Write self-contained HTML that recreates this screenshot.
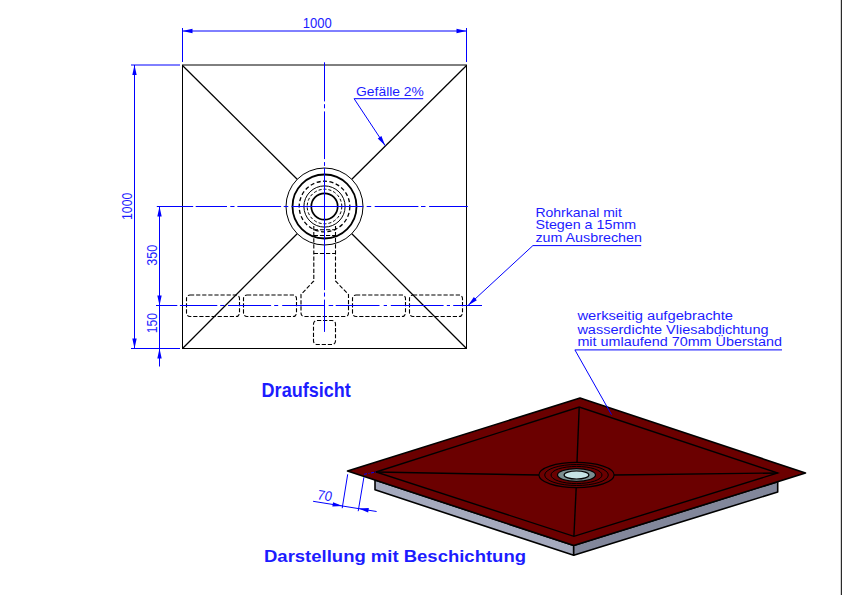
<!DOCTYPE html>
<html><head><meta charset="utf-8">
<style>
html,body{margin:0;padding:0;background:#fff;}
body{width:842px;height:595px;overflow:hidden;}
svg{display:block;}
text{font-family:"Liberation Sans",sans-serif;fill:#1c1cff;}
</style></head><body>
<svg width="842" height="595" viewBox="0 0 842 595">
<rect x="0" y="0" width="842" height="595" fill="#fff"/>
<!-- right frame line -->
<rect x="840.8" y="0" width="1.2" height="595" fill="#2a2a2a"/>

<!-- ===== TOP VIEW ===== -->
<g fill="none" stroke="#000" stroke-width="1">
  <line x1="182" y1="65" x2="467" y2="65"/>
  <line x1="182.5" y1="65" x2="182.5" y2="349"/>
  <line x1="466.5" y1="65" x2="466.5" y2="349"/>
  <line x1="182" y1="348.5" x2="467" y2="348.5"/>
  <!-- diagonals to outer circle r=38.5 -->
  <g stroke-width="1.25">
  <line x1="182.5" y1="65.5" x2="297.2" y2="179.3"/>
  <line x1="466.5" y1="65.5" x2="351.8" y2="179.3"/>
  <line x1="182.5" y1="348.5" x2="297.2" y2="233.7"/>
  <line x1="466.5" y1="348.5" x2="351.8" y2="233.7"/>
  </g>
  <!-- drain circles -->
  <circle cx="324.5" cy="206.5" r="38.5"/>
  <circle cx="324.5" cy="206.5" r="32" stroke-width="1.8"/>
  <circle cx="324.5" cy="206.5" r="25.3" stroke-width="1.3" stroke-dasharray="4 2.5"/>
  <circle cx="324.5" cy="206.5" r="20.6" stroke-width="1"/>
  <circle cx="324.5" cy="206.5" r="17.3" stroke-width="1" stroke-dasharray="3 2"/>
  <circle cx="324.5" cy="206.5" r="13.2" stroke-width="1.7"/>
</g>
<!-- dashed channel and slots -->
<g fill="none" stroke="#000" stroke-width="1.1" stroke-dasharray="4.2 1.9">
  <path d="M313.8 226 V281 L301 294.5 V313 Q301 316.5 304.5 316.5 H345 Q348.5 316.5 348.5 313 V294.5 L335.5 281 V226"/>
  <path d="M313.8 229.8 H335.5 M313.8 235.5 H335.5 M313.8 253.5 H335.5"/>
  <rect x="186.5" y="295" width="53" height="21.5" rx="3.5"/>
  <rect x="243.5" y="295" width="53" height="21.5" rx="3.5"/>
  <rect x="352.5" y="295" width="53" height="21.5" rx="3.5"/>
  <rect x="409.5" y="295" width="53" height="21.5" rx="3.5"/>
  <rect x="313.5" y="320.5" width="22" height="24" rx="3.5"/>
</g>
<!-- centerlines -->
<g fill="none" stroke="#0000ff" stroke-width="1">
  <path d="M156.8 206.5H193.2 M195.7 206.5H227 M230.3 206.5H234.5 M237.4 206.5H281.1 M283.7 206.5H288.3 M291.6 206.5H363.4 M366.7 206.5H371.2 M374.7 206.5H418.4 M421 206.5H425.5 M429.1 206.5H467.8"/>
  <path d="M156 305.5H177.3 M179.9 305.5H217.3 M220.2 305.5H224.7 M228 305.5H271.1 M274.2 305.5H278.2 M282.2 305.5H324.7 M328.7 305.5H333.2 M335.7 305.5H379.5 M383.7 305.5H387 M390.8 305.5H443.6 M446.8 305.5H450 M453.2 305.5H482"/>
  <path d="M324.5 62.3V101.4 M324.5 104.2V108.3 M324.5 111.4V159.1 M324.5 162.1V165.9 M324.5 167.9V290.1 M324.5 292.6V296.6 M324.5 299.6V331.9"/>
</g>
<!-- dimensions -->
<g fill="none" stroke="#0000ff" stroke-width="1">
  <line x1="182.5" y1="28" x2="182.5" y2="62"/>
  <line x1="466.5" y1="28" x2="466.5" y2="62"/>
  <line x1="182.5" y1="31" x2="466.5" y2="31"/>
  <line x1="131" y1="65" x2="180" y2="65"/>
  <line x1="131" y1="348.5" x2="180" y2="348.5"/>
  <line x1="134.5" y1="65" x2="134.5" y2="348.5"/>
  <line x1="159.5" y1="206.5" x2="159.5" y2="366.5"/>
  <!-- leaders -->
  <polyline points="423.2,98.7 354.1,98.7 385.1,145.6"/>
  <polyline points="641.2,245.6 532.9,245.6 468,305.5"/>
</g>
<g fill="#0000ff">
  <polygon points="182.5,31 192.5,28.8 192.5,33.2"/>
  <polygon points="466.5,31 456.5,28.8 456.5,33.2"/>
  <polygon points="134.5,65 132.3,75 136.7,75"/>
  <polygon points="134.5,348.5 132.3,338.5 136.7,338.5"/>
  <polygon points="159.5,206.5 157.3,216.5 161.7,216.5"/>
  <polygon points="159.5,305.5 157.3,295.5 161.7,295.5"/>
  <polygon points="159.5,348.5 157.3,358.5 161.7,358.5"/>
  <polygon points="385.1,145.6 377.75,138.47 381.42,136.04"/>
  <polygon points="468,305.5 473.86,297.1 476.84,300.34"/>
</g>
<!-- top view texts -->
<text x="317.3" y="27.8" font-size="14" text-anchor="middle" textLength="29" lengthAdjust="spacingAndGlyphs">1000</text>
<text x="356.1" y="95.8" font-size="13" textLength="67.8" lengthAdjust="spacingAndGlyphs">Gefälle 2%</text>
<text transform="translate(131.8,206.3) rotate(-90)" x="0" y="0" font-size="14" text-anchor="middle" textLength="27.4" lengthAdjust="spacingAndGlyphs">1000</text>
<text transform="translate(157.4,255.2) rotate(-90)" x="0" y="0" font-size="14" text-anchor="middle" textLength="21" lengthAdjust="spacingAndGlyphs">350</text>
<text transform="translate(156.8,323.1) rotate(-90)" x="0" y="0" font-size="14" text-anchor="middle" textLength="20.2" lengthAdjust="spacingAndGlyphs">150</text>
<text x="535.4" y="216.8" font-size="12.8" textLength="86.5" lengthAdjust="spacingAndGlyphs">Rohrkanal mit</text>
<text x="535.4" y="229.4" font-size="12.8" textLength="100.8" lengthAdjust="spacingAndGlyphs">Stegen a 15mm</text>
<text x="535.4" y="242.3" font-size="12.8" textLength="106.5" lengthAdjust="spacingAndGlyphs">zum Ausbrechen</text>
<text x="261.6" y="396.8" font-size="19.4" font-weight="bold" fill="#0000ff" textLength="89.2" lengthAdjust="spacingAndGlyphs">Draufsicht</text>

<!-- ===== 3D VIEW ===== -->
<g stroke="#000" stroke-width="1.6" stroke-linejoin="round">
  <!-- base faces -->
  <polygon points="375,480 573.7,545.5 573.7,555.3 375,489.8" fill="#a5aabe"/>
  <polygon points="573.7,545.5 777.7,481.7 777.7,492 573.7,555.3" fill="#82879b"/>
  <!-- membrane -->
  <polygon points="347.5,471 580,398 805.5,473 573.8,545.5" fill="#6b0000"/>
</g>
<g fill="none" stroke="#000" stroke-width="1.4">
  <polygon points="376,472 579.2,407 777.7,473 573.9,536.3"/>
  <line x1="376" y1="472" x2="539" y2="475"/>
  <line x1="614" y1="475" x2="777.7" y2="473"/>
  <line x1="579.2" y1="407" x2="577" y2="462.4"/>
  <line x1="576.2" y1="487.6" x2="573.9" y2="536.3"/>
</g>
<g fill="none" stroke="#000">
  <ellipse cx="576.5" cy="475" rx="37.6" ry="12.6" stroke-width="1.2"/>
  <ellipse cx="576.5" cy="475" rx="31.8" ry="10.5" stroke-width="1"/>
  <ellipse cx="576.5" cy="475" rx="25.5" ry="8.6" stroke-width="1"/>
  <ellipse cx="576.5" cy="475" rx="19" ry="6.3" fill="#7a8e90" stroke-width="1.2"/>
  <ellipse cx="576.5" cy="475" rx="12.4" ry="4" fill="#c6e4e6" stroke-width="1.2"/>
</g>
<g fill="none" stroke="#0000ff" stroke-width="1"><polyline points="782,349.9 574.9,349.9 611.5,414.7"/></g>
<!-- 70 dimension -->
<g fill="none" stroke="#0000ff" stroke-width="1">
  <line x1="347.7" y1="474.3" x2="342.2" y2="508.2"/>
  <line x1="363.9" y1="477.3" x2="358.2" y2="511.2"/>
  <line x1="313.1" y1="501.3" x2="376.6" y2="511.5"/>
  <line x1="364.1" y1="474.3" x2="376" y2="472" stroke-dasharray="3 1.5 1 1.5"/>
</g>
<g fill="#0000ff">
  <polygon points="342.56,506.04 333.04,502.28 332.34,506.62"/>
  <polygon points="358.64,508.62 368.86,508.03 368.16,512.38"/>
</g>
<text transform="translate(316.6,499.2) rotate(8) skewX(-5)" font-size="13.8" textLength="14.6" lengthAdjust="spacingAndGlyphs">70</text>
<text x="577.4" y="320.4" font-size="12" textLength="155.6" lengthAdjust="spacingAndGlyphs">werkseitig aufgebrachte</text>
<text x="577.4" y="333.6" font-size="12" textLength="191.2" lengthAdjust="spacingAndGlyphs">wasserdichte Vliesabdichtung</text>
<text x="577.4" y="346.4" font-size="12" textLength="204.5" lengthAdjust="spacingAndGlyphs">mit umlaufend 70mm Überstand</text>
<text x="264" y="562.4" font-size="16.8" font-weight="bold" fill="#0000ff" textLength="262" lengthAdjust="spacingAndGlyphs">Darstellung mit Beschichtung</text>
</svg>
</body></html>
